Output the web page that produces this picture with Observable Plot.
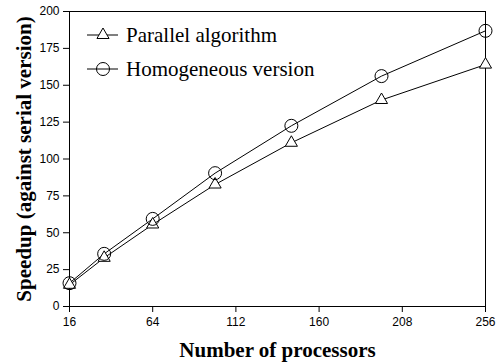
<!DOCTYPE html>
<html>
<head>
<meta charset="utf-8">
<script src="https://cdn.jsdelivr.net/npm/d3@7"></script>
<script src="https://cdn.jsdelivr.net/npm/@observablehq/plot@0.6"></script>
<style>
  html, body { margin: 0; padding: 0; background: #fff; }
  #chart svg { font-family: "Liberation Sans", Arial, sans-serif; font-size: 12px; }
  #chart svg g[aria-label="y-axis label"] text { font-family: "Liberation Serif", serif; font-weight: bold; font-size: 21px; }
  #chart svg g[aria-label="x-axis label"] text { font-family: "Liberation Serif", serif; font-weight: bold; font-size: 21px; }
</style>
</head>
<body>
<div id="chart"></div>
<script>
const processors = [16, 36, 64, 100, 144, 196, 256];
const parallelAlgorithm = [14.7, 33, 55.6, 82.7, 111, 140, 164];
const homogeneousVersion = [15.8, 35.7, 59.4, 90.4, 122.5, 156.2, 186.9];
const seriesNames = ["Parallel algorithm", "Homogeneous version"];
const xTicks = [16, 64, 112, 160, 208, 256];
const yTicks = [0, 25, 50, 75, 100, 125, 150, 175, 200];

const par = processors.map((p, i) => ({p, v: parallelAlgorithm[i]}));
const hom = processors.map((p, i) => ({p, v: homogeneousVersion[i]}));

const chart = Plot.plot({
  width: 500,
  height: 362,
  marginLeft: 69,
  marginRight: 15,
  marginTop: 11,
  marginBottom: 56,
  x: {domain: [16, 256], ticks: xTicks},
  y: {domain: [0, 200], ticks: yTicks},
  marks: [
    Plot.frame({stroke: "black"}),
    Plot.axisX({ticks: xTicks, tickSize: 6, tickPadding: 5, label: "Number of processors", labelAnchor: "center", labelOffset: 50, labelArrow: "none"}),
    Plot.axisY({ticks: yTicks, tickSize: 6, tickPadding: 4, label: "Speedup (against serial version)", labelAnchor: "center", labelOffset: 53, labelArrow: "none"}),
    Plot.line(hom, {x: "p", y: "v", stroke: "black", strokeWidth: 1}),
    Plot.line(par, {x: "p", y: "v", stroke: "black", strokeWidth: 1}),
    Plot.dot(par, {x: "p", y: "v", symbol: "triangle", r: 4.5, stroke: "black", fill: "white", strokeWidth: 1}),
    Plot.dot(hom, {x: "p", y: "v", symbol: "circle", r: 6.5, stroke: "black", fill: "none", strokeWidth: 1})
  ]
});
document.getElementById("chart").appendChild(chart);

// legend inside the plot area
const svg = d3.select(chart);
const lg = svg.append("g").attr("class", "legend")
  .attr("text-anchor", "start")
  .attr("font-family", '"Liberation Serif", serif')
  .attr("font-size", 21);
const symbols = [d3.symbol(d3.symbolTriangle, 4.5 * 4.5 * Math.PI), d3.symbol(d3.symbolCircle, 6.5 * 6.5 * Math.PI)];
seriesNames.forEach((name, i) => {
  const y = 35 + i * 34;
  lg.append("line").attr("x1", 87).attr("x2", 118).attr("y1", y).attr("y2", y).attr("stroke", "black");
  lg.append("path").attr("d", symbols[i]()).attr("transform", `translate(103,${y})`).attr("stroke", "black").attr("fill", i === 0 ? "white" : "none");
  lg.append("text").attr("x", 126).attr("y", y).attr("dy", "0.35em")
    .style("font-family", '"Liberation Serif", serif').style("font-size", "21px").style("text-anchor", "start")
    .text(name);
});
</script>
</body>
</html>
